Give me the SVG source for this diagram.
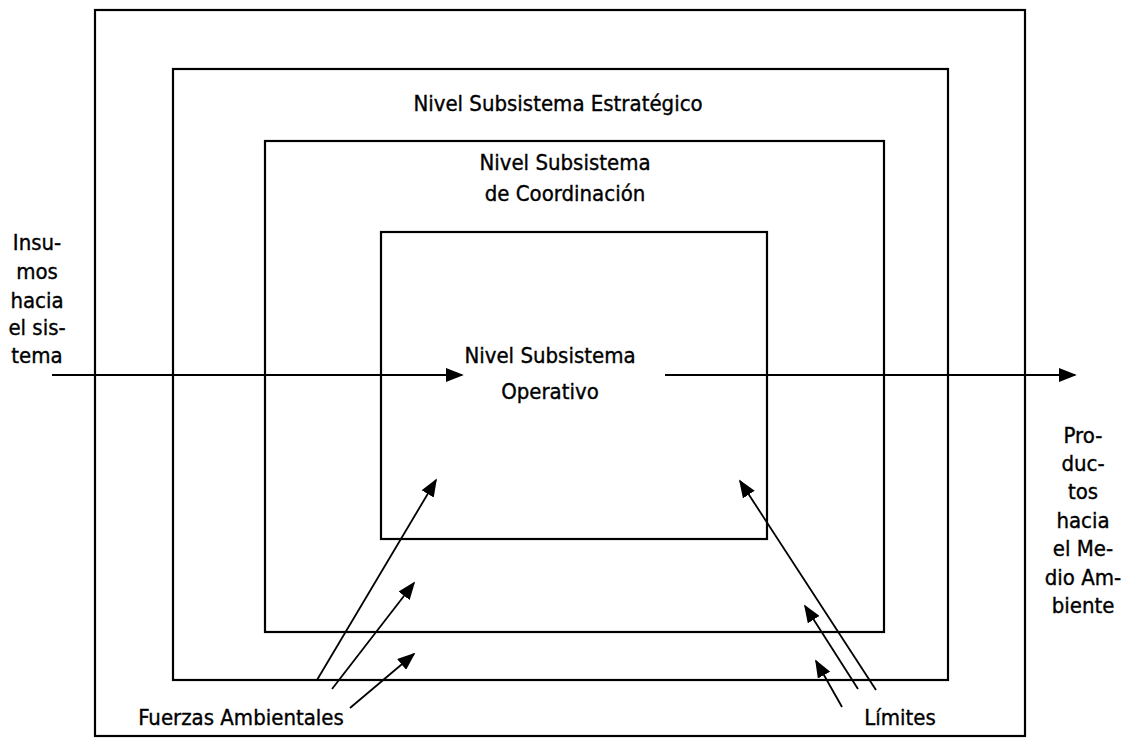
<svg xmlns="http://www.w3.org/2000/svg" width="1133" height="739" viewBox="0 0 1133 739">
<style>
.box{fill:none;stroke:#000;stroke-width:2.2}
.t{font-family:"DejaVu Sans Condensed","DejaVu Sans",sans-serif;font-size:22px;fill:#000;stroke:#000;stroke-width:0.35;text-anchor:middle}
.c{stroke:#000;stroke-width:1.8;fill:none}
</style>
<defs>
<marker id="ah2" viewBox="0 0 10 10" refX="9" refY="5" markerWidth="18" markerHeight="14" markerUnits="userSpaceOnUse" orient="auto" preserveAspectRatio="none">
<path d="M0,0 L10,5 L0,10 Z" fill="#000"/>
</marker>
</defs>
<rect width="1133" height="739" fill="#fff"/>
<g id="outer"><rect class="box" x="95" y="10" width="930" height="726"/></g>
<g id="estrategico"><rect class="box" x="173" y="69" width="775" height="611"/>
<text class="t" x="558" y="111">Nivel Subsistema Estratégico</text></g>
<g id="coordinacion"><rect class="box" x="265" y="141" width="619" height="491"/>
<text class="t" x="565" y="170">Nivel Subsistema</text>
<text class="t" x="565" y="201">de Coordinación</text></g>
<g id="operativo"><rect class="box" x="381" y="232" width="386" height="307"/>
<text class="t" x="550" y="363">Nivel Subsistema</text>
<text class="t" x="550" y="399">Operativo</text></g>
<g id="insumos">
<text class="t" x="37" y="250">Insu-</text>
<text class="t" x="37" y="279">mos</text>
<text class="t" x="37" y="308">hacia</text>
<text class="t" x="37" y="335">el sis-</text>
<text class="t" x="37" y="363">tema</text>
</g>
<g id="productos">
<text class="t" x="1083" y="443">Pro-</text>
<text class="t" x="1083" y="471">duc-</text>
<text class="t" x="1083" y="499">tos</text>
<text class="t" x="1083" y="528">hacia</text>
<text class="t" x="1083" y="556">el Me-</text>
<text class="t" x="1083" y="585">dio Am-</text>
<text class="t" x="1083" y="613">biente</text>
</g>
<g id="fuerzas"><text class="t" x="241" y="725">Fuerzas Ambientales</text></g>
<g id="limites"><text class="t" x="900" y="725">Límites</text></g>
<g id="connectors">
<line class="c" x1="52" y1="375" x2="462" y2="375" marker-end="url(#ah2)"/>
<line class="c" x1="665" y1="375" x2="1075" y2="375" marker-end="url(#ah2)"/>
<line class="c" x1="317" y1="680" x2="436" y2="480" marker-end="url(#ah2)"/>
<line class="c" x1="332" y1="689" x2="414" y2="583" marker-end="url(#ah2)"/>
<line class="c" x1="350" y1="708" x2="414" y2="654" marker-end="url(#ah2)"/>
<line class="c" x1="876" y1="690" x2="740" y2="481" marker-end="url(#ah2)"/>
<line class="c" x1="858" y1="689" x2="805" y2="606" marker-end="url(#ah2)"/>
<line class="c" x1="842" y1="707" x2="816" y2="661" marker-end="url(#ah2)"/>
</g>
</svg>
